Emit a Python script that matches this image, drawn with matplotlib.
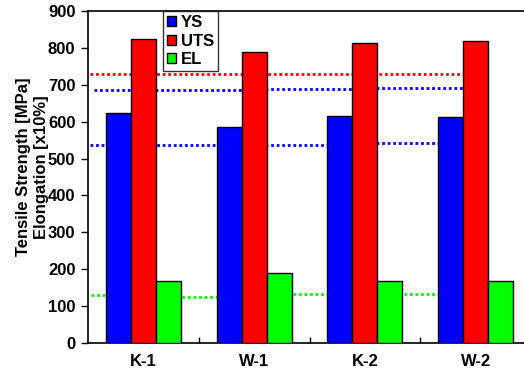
import matplotlib
matplotlib.use("Agg")
import matplotlib.pyplot as plt
import numpy as np

plt.rcParams["font.family"] = ["Liberation Sans", "DejaVu Sans"]
plt.rcParams["font.weight"] = "bold"
plt.rcParams["axes.labelweight"] = "bold"
plt.rcParams["font.size"] = 12

samples = ["K-1", "W-1", "K-2", "W-2"]
ys = [624, 586, 616, 614]
uts = [823, 788, 813, 820]
el = [167, 191, 168, 167]

series = [("YS", ys, "#0000ff"), ("UTS", uts, "#ff0000"), ("EL", el, "#00ff00")]

# dotted reference levels, drawn piecewise between group positions (x in category units)
uts_ref_x = [-0.48, 2.9]
uts_ref_y = [729]
ys_hi_x = [-0.45, 1.0, 2.0, 2.9]
ys_hi_y = [686, 688, 690]
ys_lo_x = [-0.48, 1.0, 2.0, 2.66]
ys_lo_y = [537, 537, 542]
el_ref_x = [-0.47, 0.0, 1.0, 2.0, 2.66]
el_ref_y = [130, 124, 132, 132]

fig = plt.figure(figsize=(5.24, 3.71), dpi=100)
ax = fig.add_axes([88 / 524, 28 / 371, 443 / 524, 332 / 371])

dot = dict(linestyle=(0, (1, 1)), linewidth=2.0, dash_capstyle="butt", zorder=1)


def seg_lines(xs, levels, color):
    for i, lv in enumerate(levels):
        ax.plot([xs[i], xs[i + 1]], [lv, lv], color=color, **dot)


seg_lines(uts_ref_x, uts_ref_y, "#ff0000")
seg_lines(ys_hi_x, ys_hi_y, "#0000ff")
seg_lines(ys_lo_x, ys_lo_y, "#0000ff")
seg_lines(el_ref_x, el_ref_y, "#00ff00")

x = np.arange(len(samples))
w = 0.226
for i, (name, vals, color) in enumerate(series):
    ax.bar(x + (i - 1) * w, vals, width=w, color=color, edgecolor="black",
           linewidth=1.0, label=name, zorder=3)

ax.set_xlim(-0.5, 3.5)
ax.set_ylim(0, 900)
ax.set_yticks(range(0, 901, 100))
ax.set_xticks(x)
ax.set_xticklabels(samples)
ax.set_xticks(np.arange(0.5, 3.5, 1), minor=True)
ax.tick_params(axis="x", which="major", length=0, pad=8)
ax.tick_params(axis="x", which="minor", direction="in", length=4, width=1)
ax.tick_params(axis="y", direction="out", length=5, width=1, pad=4)
for s in ["bottom", "left", "top"]:
    ax.spines[s].set_linewidth(1.2)
ax.spines["right"].set_visible(False)

ax.set_ylabel("Tensile Strength [MPa]\nElongation [x10%]", linespacing=1.25)
ax.yaxis.set_label_coords(-0.088, 0.53)

leg = ax.legend(loc="upper left", bbox_to_anchor=(75 / 443, 1.0), frameon=True,
                fancybox=False, edgecolor="black", handlelength=0.55,
                handleheight=0.55, handletextpad=0.25, borderpad=0.25,
                labelspacing=0.2, borderaxespad=0.0)
leg.get_frame().set_linewidth(1.0)

fig.savefig("out.png", dpi=100)
